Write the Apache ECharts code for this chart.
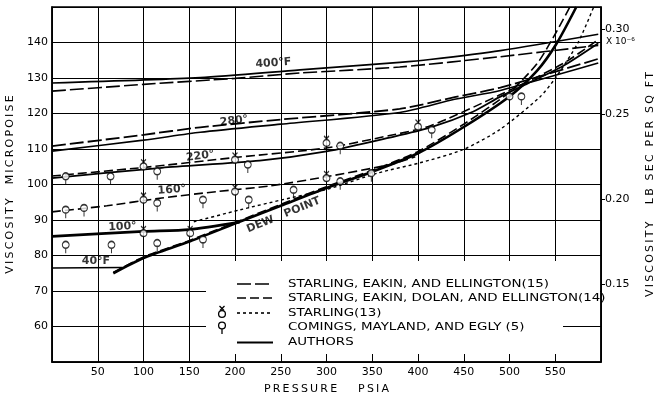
<!DOCTYPE html>
<html>
<head>
<meta charset="utf-8">
<script src="https://cdn.jsdelivr.net/npm/echarts@6/dist/echarts.min.js"></script>
<style>
html,body{margin:0;padding:0;background:#fff;}
#chart{width:661px;height:397px;}
</style>
</head>
<body>
<div id="chart"></div>
<script>
// 数据：压力 psia, 粘度 micropoise
var iso400Solid  = [[0,128.6],[162,130.1],[271,132.3],[380,134.4],[413,135.2],[490,137.7],[597,142.3]];
var iso400Dash   = [[0,126.3],[100,128.2],[200,129.9],[271,131.4],[380,133.1],[490,136],[597,139.2]];
var iso280Solid  = [[0,109.4],[100,112.5],[162,114.7],[250,117],[380,120.3],[440,124],[490,126.5],[597,134.2]];
var iso280Dash   = [[0,110.8],[100,114],[162,116.1],[250,118.3],[380,121.3],[440,124.6],[490,127.3],[597,135.4]];
var iso220Solid  = [[0,101.8],[120,104.7],[227,106.7],[300,109.3],[369,113.2],[413,116],[460,120.5],[489,124.6],[520,128.5],[558,133.3],[597,139.8]];
var iso220Dash   = [[0,102.4],[100,104.8],[200,107.6],[300,110.3],[369,113.8],[413,116.5],[489,125.2],[558,134],[597,140.8]];
var iso160Dash   = [[0,92.3],[60,94],[120,96.2],[180,98],[238,99.6],[300,102.2],[369,105.6],[397,107.8]];
var iso100Solid  = [[0,85.4],[100,86.8],[150,87.3],[205,89.4]];
var iso40Solid   = [[0,76.5],[77,76.6]];
var dewSolid     = [[67,75],[100,79.3],[151,84],[205,89.5],[250,94],[300,99],[350,103.6],[400,108.8],[450,116.2],[500,124.8],[530,132],[551,139.5],[573,150]];
var dewDash      = [[67,75.2],[100,79.6],[151,84.3],[205,89.8],[250,94.4],[300,99.4],[350,104],[400,109.3],[450,117],[500,126],[530,134],[548,141.5],[566,150]];
var starlingDot  = [[155,89.5],[206,92.9],[250,95.6],[300,98.6],[357,103.3],[402,106.1],[449,109.8],[489,115.4],[533,124.6],[551,130.3],[575,140],[592,150]];
var comingsPts   = [[15,102.3],[64,102.3],[115,103.7],[214,105.6],[315,110.9],[415,115.4],[500,124.8],[513,124.8],
                    [15,92.9],[35,93.4],[115,94.8],[165,95.7],[215,95.7],[264,98.5],[315,100.9],[349,103.2],
                    [15,83],[65,83],[115,83.5],[165,84.5]];
var starlingPts  = [[100,105.1],[200,107],[300,111.7],[400,116.3],[100,95.7],[200,98],[300,101.8],[100,86.3],[151,86.3]];
// 曲线标注
var curveLabels  = [['400°F',242,134.2],['280°',199,117.9],['220°',162,108],['160°',131,98.5],['100°',77,88.1],['40°F',48,78.3],['DEW   POINT',253,91.4]];
var labelTilt    = [4,7,7,4,3,0,22];
var rightTicks   = [0.15,0.20,0.25,0.30];
var legendNames  = ['STARLING, EAKIN, AND ELLINGTON(15)','STARLING, EAKIN, DOLAN, AND ELLINGTON(14)','STARLING(13)','COMINGS, MAYLAND, AND EGLY (5)','AUTHORS'];

var UP_PER_LBSEC = 478.8; // 1e-6 lb sec/sq ft = 478.8 micropoise
var FONT = 'DejaVu Sans';
var comingsSym  = 'path://M0.6,4 A3.4,3.4 0 1,1 7.4,4 A3.4,3.4 0 1,1 0.6,4 Z M4,7.4 L4,12.5';
var starlingSym = 'path://M0.6,8 A3.4,3.4 0 1,1 7.4,8 A3.4,3.4 0 1,1 0.6,8 Z M1.5,1 L6,5.5 M6.5,1 L2,5.5';

// 字母间加细空格，模仿原图的宽字距
function spaced(s){
	return s.split('').join('\u2009');
}

var chart = echarts.init(document.getElementById('chart'));

function lineSeries(data, width, dash){
	return {
		type: 'line',
		data: data,
		smooth: 0.25,
		symbol: 'none',
		silent: true,
		z: 3,
		lineStyle: { color: '#000', width: width, type: dash || 'solid' }
	};
}

var series = [
	lineSeries(iso400Solid, 1.6),
	lineSeries(iso400Dash, 1.6, [14,4]),
	lineSeries(iso280Solid, 1.6),
	lineSeries(iso280Dash, 1.8, [14,4]),
	lineSeries(iso220Solid, 1.8),
	lineSeries(iso220Dash, 1.6, [9,4]),
	lineSeries(iso160Dash, 1.6, [9,4]),
	lineSeries(iso100Solid, 2.8),
	lineSeries(iso40Solid, 1.6),
	lineSeries(dewSolid, 2.6),
	lineSeries(dewDash, 1.6, [9,4]),
	lineSeries(starlingDot, 1.4, [3,3]),
	{
		type: 'scatter', data: comingsPts, symbol: comingsSym,
		symbolSize: [6.8,11.9], symbolOffset: [0,2.55], z: 5,
		itemStyle: { color: '#fff', borderColor: '#000', borderWidth: 1.3 }
	},
	{
		type: 'scatter', data: starlingPts, symbol: starlingSym,
		symbolSize: [6.8,10.4], symbolOffset: [0,-1.8], z: 5,
		itemStyle: { color: '#fff', borderColor: '#000', borderWidth: 1.3 }
	},
	{
		type: 'scatter', symbolSize: 0, z: 6, silent: true,
		data: curveLabels.map(function(v, i){
			return { name: v[0], value: [v[1], v[2]], label: { rotate: labelTilt[i] } };
		}),
		label: {
			show: true, position: 'inside', formatter: '{b}',
			color: '#000', fontFamily: FONT, fontSize: 11, fontWeight: 'bold'
		}
	}
];

var axisText = { color: '#000', fontFamily: FONT, fontSize: 11 };

var option = {
	animation: false,
	backgroundColor: '#fff',
	grid: { left: 52, right: 60, top: 7, bottom: 35, show: true, borderColor: '#000', borderWidth: 1.5, outerBoundsMode: 'none' },
	xAxis: {
		type: 'value', min: 0, max: 600, interval: 50,
		name: spaced('PRESSURE') + '      ' + spaced('PSIA'), nameLocation: 'middle', nameGap: 22,
		nameTextStyle: axisText,
		axisLine: { lineStyle: { color: '#000', width: 1.5 } },
		axisTick: { inside: true, length: 8, lineStyle: { color: '#000' } },
		axisLabel: Object.assign({ showMinLabel: false, showMaxLabel: false, margin: 5 }, axisText),
		splitLine: { show: true, lineStyle: { color: '#000', width: 1 } }
	},
	yAxis: [{
		type: 'value', min: 50, max: 150, interval: 10,
		name: spaced('VISCOSITY') + '    ' + spaced('MICROPOISE'), nameLocation: 'middle', nameGap: 33, nameRotate: 90,
		nameTextStyle: axisText,
		axisLine: { show: true, lineStyle: { color: '#000', width: 1.5 } },
		axisTick: { show: false },
		axisLabel: Object.assign({ showMinLabel: false, showMaxLabel: false, margin: 4 }, axisText),
		splitLine: { show: true, lineStyle: { color: '#000', width: 1 } }
	}, {
		type: 'value', position: 'right',
		min: 50 / UP_PER_LBSEC, max: 150 / UP_PER_LBSEC,
		name: spaced('VISCOSITY') + '     ' + spaced('LB SEC PER SQ FT'), nameLocation: 'middle', nameGap: 44, nameRotate: 90,
		nameTextStyle: axisText,
		axisLine: { show: true, lineStyle: { color: '#000', width: 1.5 } },
		axisTick: { show: true, length: 4, customValues: rightTicks, lineStyle: { color: '#000' } },
		axisLabel: Object.assign({ margin: 4, customValues: rightTicks, formatter: function(v){ return v.toFixed(2); } }, axisText),
		splitLine: { show: false }
	}],
	series: series
};
chart.setOption(option);

// 图例（手绘样式）
var p30 = chart.convertToPixel({ yAxisIndex: 1 }, 0.30);
var rowY = [284, 298, 313, 327.5, 342.5];
var dashes = [[14,4], [9,4], [3,3], null, null];
var legendEls = [{
	type: 'rect', shape: { x: 206, y: 261, width: 394, height: 58 }, style: { fill: '#fff' }, z: 1
}, {
	type: 'rect', shape: { x: 206, y: 318, width: 357, height: 36 }, style: { fill: '#fff' }, z: 1
}, {
	type: 'text', x: 606, y: p30 + 8,
	style: { text: 'X 10⁻⁶', fill: '#000', font: '9px ' + FONT, verticalAlign: 'top' }, z: 10
}];
legendNames.forEach(function(name, i){
	if (i !== 3) {
		legendEls.push({
			type: 'line', z: 2,
			shape: { x1: 237, y1: rowY[i], x2: 273, y2: rowY[i] },
			style: { stroke: '#000', lineWidth: i === 4 ? 1.8 : 1.6, lineDash: dashes[i] }
		});
	}
	legendEls.push({
		type: 'text', x: 288, y: rowY[i], z: 2, scaleX: 1.22,
		style: { text: name, fill: '#000', font: '11px ' + FONT, verticalAlign: 'middle' }
	});
});
// 图例中的点标记
var markStyle = { fill: '#fff', stroke: '#000', lineWidth: 1.3 };
legendEls.push(
	{ type: 'circle', z: 3, shape: { cx: 222, cy: rowY[2] + 1, r: 3.4 }, style: markStyle },
	{ type: 'line', z: 3, shape: { x1: 219.5, y1: rowY[2] - 7, x2: 224, y2: rowY[2] - 2.5 }, style: markStyle },
	{ type: 'line', z: 3, shape: { x1: 224.5, y1: rowY[2] - 7, x2: 220, y2: rowY[2] - 2.5 }, style: markStyle },
	{ type: 'circle', z: 3, shape: { cx: 222, cy: rowY[3] - 2, r: 3.4 }, style: markStyle },
	{ type: 'line', z: 3, shape: { x1: 222, y1: rowY[3] + 1.4, x2: 222, y2: rowY[3] + 6.5 }, style: markStyle }
);
chart.setOption({ graphic: legendEls });
</script>
</body>
</html>
